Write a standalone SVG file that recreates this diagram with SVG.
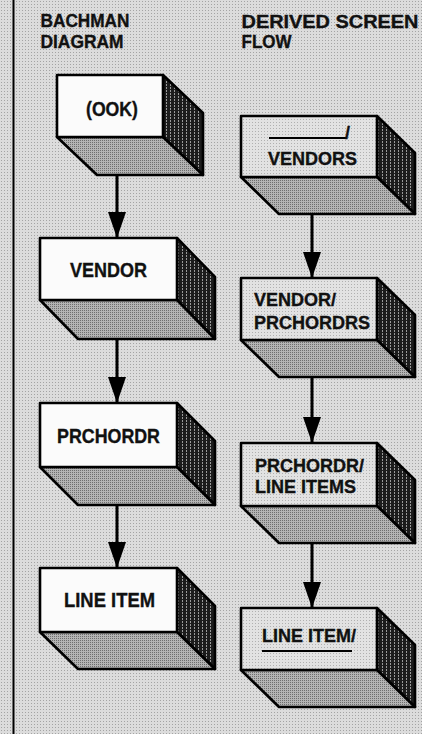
<svg xmlns="http://www.w3.org/2000/svg" width="422" height="734" viewBox="0 0 422 734">
<style>
text{font-family:"Liberation Sans",Arial,Helvetica,sans-serif;font-weight:bold;fill:#111;stroke:#111;stroke-width:0.35}
.h{font-size:17.5px}
.l{font-size:19.5px}
.r{font-size:18px}
.edge{stroke:#000;stroke-width:2.6;fill:none;stroke-linejoin:round}
.front{fill:#fbfbfb}
.frontg{fill:url(#stipL)}
.side{fill:url(#hatch)}
.bot{fill:url(#stipD)}
.conn{stroke:#000;stroke-width:3;fill:none;marker-end:url(#ah)}
.blank{stroke:#000;stroke-width:2}
</style>
<defs>
<pattern id="stipBg" width="3" height="3" patternUnits="userSpaceOnUse">
<rect width="3" height="3" fill="#dcdcdc"/>
<rect x="1" y="1" width="1" height="1" fill="#a4a4a4"/>
</pattern>
<pattern id="stipL" width="3" height="3" patternUnits="userSpaceOnUse">
<rect width="3" height="3" fill="#e2e2e2"/>
<rect x="0" y="2" width="1" height="1" fill="#b0b0b0"/>
</pattern>
<pattern id="stipD" width="2" height="2" patternUnits="userSpaceOnUse">
<rect width="2" height="2" fill="#b4b4b4"/>
<rect x="0" y="0" width="1" height="1" fill="#6e6e6e"/>
</pattern>
<pattern id="hatch" width="4" height="3" patternUnits="userSpaceOnUse">
<rect width="4" height="3" fill="#1c1c1c"/>
<rect x="2" y="0" width="1" height="2" fill="#9a9a9a"/>
</pattern>
<marker id="ah" viewBox="0 0 26 18" refX="26" refY="9" markerWidth="26" markerHeight="18" markerUnits="userSpaceOnUse" orient="auto">
<path d="M0,0 L26,9 L0,18 z" fill="#000"/>
</marker>
</defs>
<rect width="422" height="734" fill="url(#stipBg)"/>
<line x1="13.5" y1="0" x2="13.5" y2="734" stroke="#000" stroke-width="2"/>

<g id="headings">
<text class="h" x="40.5" y="27" textLength="89" lengthAdjust="spacingAndGlyphs">BACHMAN</text>
<text class="h" x="40.5" y="48" textLength="83" lengthAdjust="spacingAndGlyphs">DIAGRAM</text>
<text class="h" x="241.5" y="27.5" textLength="177" lengthAdjust="spacingAndGlyphs">DERIVED SCREEN</text>
<text class="h" x="241.5" y="48" textLength="50" lengthAdjust="spacingAndGlyphs">FLOW</text>
</g>

<g id="connectors">
<line class="conn" x1="117" y1="175" x2="117" y2="238"/>
<line class="conn" x1="117" y1="339" x2="117" y2="403"/>
<line class="conn" x1="117" y1="505" x2="117" y2="568"/>
<line class="conn" x1="312" y1="214" x2="312" y2="278"/>
<line class="conn" x1="312" y1="377" x2="312" y2="443"/>
<line class="conn" x1="312" y1="543" x2="312" y2="608"/>
</g>

<g id="ook">
<polygon class="side edge" points="163,75 203,113 203,175 163,137"/>
<polygon class="bot edge" points="57,137 163,137 203,175 97,175"/>
<rect class="front edge" x="57" y="75" width="106" height="62"/>
<text class="l" x="86" y="116" textLength="52" lengthAdjust="spacingAndGlyphs">(OOK)</text>
</g>

<g id="vendor">
<polygon class="side edge" points="177,238 215,277 215,339 177,300"/>
<polygon class="bot edge" points="40,300 177,300 215,339 78,339"/>
<rect class="front edge" x="40" y="238" width="137" height="62"/>
<text class="l" x="70" y="277" textLength="77" lengthAdjust="spacingAndGlyphs">VENDOR</text>
</g>

<g id="prchordr">
<polygon class="side edge" points="177,403 215,441 215,505 177,467"/>
<polygon class="bot edge" points="40,467 177,467 215,505 78,505"/>
<rect class="front edge" x="40" y="403" width="137" height="64"/>
<text class="l" x="57" y="443" textLength="103" lengthAdjust="spacingAndGlyphs">PRCHORDR</text>
</g>

<g id="lineitem">
<polygon class="side edge" points="177,568 215,606 215,669 177,632"/>
<polygon class="bot edge" points="40,632 177,632 215,669 78,669"/>
<rect class="front edge" x="40" y="568" width="137" height="64"/>
<text class="l" x="64" y="607" textLength="91" lengthAdjust="spacingAndGlyphs">LINE ITEM</text>
</g>

<g id="s-vendors">
<polygon class="side edge" points="377,116 415,153 415,214 377,177"/>
<polygon class="bot edge" points="241,177 377,177 415,214 279,214"/>
<rect class="frontg edge" x="241" y="116" width="136" height="61"/>
<line class="blank" x1="269" y1="138" x2="346" y2="138"/>
<text class="r" x="345" y="139">/</text>
<text class="r" x="268" y="165">VENDORS</text>
</g>

<g id="s-vendor-prchordrs">
<polygon class="side edge" points="377,278 415,315 415,377 377,340"/>
<polygon class="bot edge" points="241,340 377,340 415,377 279,377"/>
<rect class="frontg edge" x="241" y="278" width="136" height="62"/>
<text class="r" x="254" y="306">VENDOR/</text>
<text class="r" x="254" y="329">PRCHORDRS</text>
</g>

<g id="s-prchordr-lineitems">
<polygon class="side edge" points="377,443 415,480 415,543 377,506"/>
<polygon class="bot edge" points="241,506 377,506 415,543 279,543"/>
<rect class="frontg edge" x="241" y="443" width="136" height="63"/>
<text class="r" x="255" y="472">PRCHORDR/</text>
<text class="r" x="255" y="493">LINE ITEMS</text>
</g>

<g id="s-lineitem">
<polygon class="side edge" points="377,608 415,645 415,707 377,670"/>
<polygon class="bot edge" points="241,670 377,670 415,707 279,707"/>
<rect class="frontg edge" x="241" y="608" width="136" height="62"/>
<text class="r" x="262" y="642">LINE ITEM/</text>
<line class="blank" x1="262" y1="651" x2="352" y2="651"/>
</g>
</svg>
